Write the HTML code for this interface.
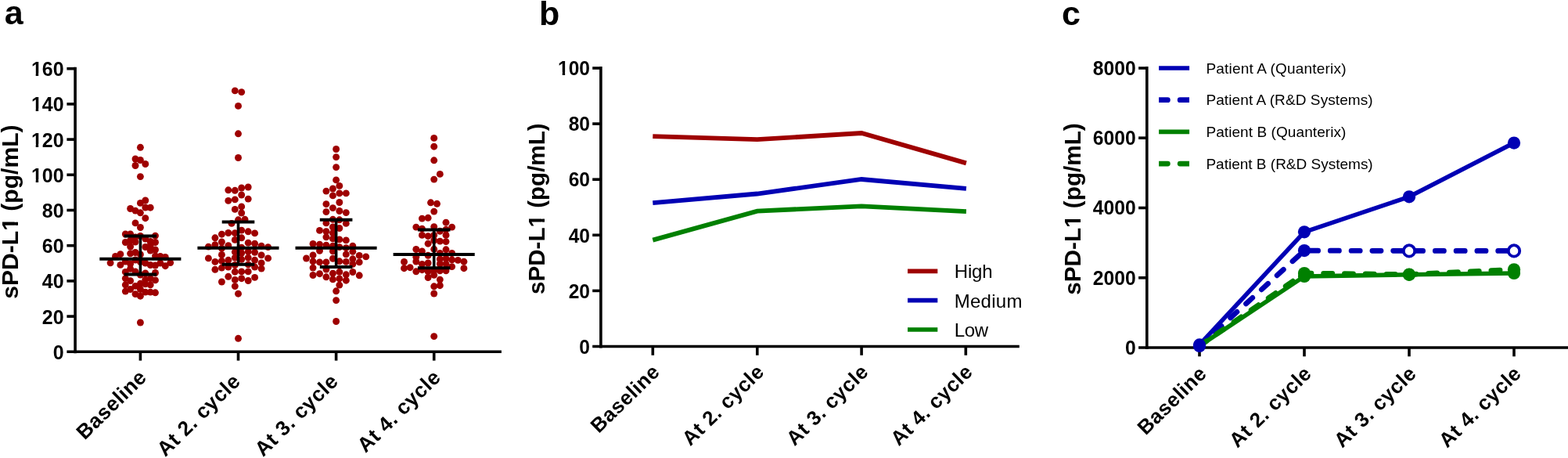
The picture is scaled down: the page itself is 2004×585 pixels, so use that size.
<!DOCTYPE html>
<html lang="en"><head><meta charset="utf-8"><title>sPD-L1 figure</title>
<style>html,body{margin:0;padding:0;background:#fff;width:2004px;height:585px;overflow:hidden}svg{display:block}text{font-family:"Liberation Sans",sans-serif;fill:#000}.tk{font-weight:bold;}.xl{font-weight:bold}.yt{font-weight:bold;}.pl{font-weight:bold;font-size:43px}.lg{font-size:24px}.lc{font-size:19px}.ax{stroke:#000;stroke-width:3.6;fill:none}</style></head><body>
<svg width="2004" height="585" viewBox="0 0 2004 585">
<rect width="2004" height="585" fill="#fff"/>
<g id="panel-a">
<text class="pl" x="5.7" y="31.3">a</text>
<g transform="translate(22.8 270.6) rotate(-90)"><text class="yt" font-size="30.10" text-anchor="middle">sPD-L1 (pg/mL)</text><rect x="-23.35" y="-4.07" width="6.13" height="5.07" fill="#fff"/><rect x="-13.09" y="-4.07" width="5.75" height="5.07" fill="#fff"/></g>
<g fill="#9e0000">
<circle cx="179.4" cy="188.3" r="4.45"/>
<circle cx="173.0" cy="203.0" r="4.45"/>
<circle cx="179.4" cy="204.5" r="4.45"/>
<circle cx="185.8" cy="209.5" r="4.45"/>
<circle cx="173.0" cy="211.5" r="4.45"/>
<circle cx="179.4" cy="225.6" r="4.45"/>
<circle cx="185.8" cy="256.0" r="4.45"/>
<circle cx="179.4" cy="259.4" r="4.45"/>
<circle cx="185.8" cy="265.0" r="4.45"/>
<circle cx="192.2" cy="265.2" r="4.45"/>
<circle cx="166.6" cy="266.5" r="4.45"/>
<circle cx="173.0" cy="269.1" r="4.45"/>
<circle cx="179.4" cy="271.8" r="4.45"/>
<circle cx="185.8" cy="278.7" r="4.45"/>
<circle cx="173.0" cy="284.9" r="4.45"/>
<circle cx="179.4" cy="290.5" r="4.45"/>
<circle cx="160.3" cy="299.0" r="4.45"/>
<circle cx="166.6" cy="299.0" r="4.45"/>
<circle cx="179.4" cy="301.5" r="4.45"/>
<circle cx="198.5" cy="301.1" r="4.45"/>
<circle cx="173.0" cy="303.0" r="4.45"/>
<circle cx="160.3" cy="309.5" r="4.45"/>
<circle cx="166.6" cy="307.0" r="4.45"/>
<circle cx="173.0" cy="309.0" r="4.45"/>
<circle cx="185.8" cy="305.0" r="4.45"/>
<circle cx="192.2" cy="308.5" r="4.45"/>
<circle cx="198.5" cy="309.5" r="4.45"/>
<circle cx="166.6" cy="315.0" r="4.45"/>
<circle cx="185.8" cy="315.5" r="4.45"/>
<circle cx="192.2" cy="313.5" r="4.45"/>
<circle cx="192.2" cy="320.0" r="4.45"/>
<circle cx="198.5" cy="319.0" r="4.45"/>
<circle cx="173.0" cy="322.5" r="4.45"/>
<circle cx="179.4" cy="325.0" r="4.45"/>
<circle cx="153.9" cy="324.7" r="4.45"/>
<circle cx="147.5" cy="327.5" r="4.45"/>
<circle cx="166.6" cy="323.8" r="4.45"/>
<circle cx="198.5" cy="327.0" r="4.45"/>
<circle cx="204.9" cy="327.5" r="4.45"/>
<circle cx="211.3" cy="328.5" r="4.45"/>
<circle cx="141.1" cy="335.8" r="4.45"/>
<circle cx="153.9" cy="338.4" r="4.45"/>
<circle cx="160.3" cy="334.0" r="4.45"/>
<circle cx="166.6" cy="337.0" r="4.45"/>
<circle cx="173.0" cy="332.0" r="4.45"/>
<circle cx="179.4" cy="334.5" r="4.45"/>
<circle cx="185.8" cy="336.0" r="4.45"/>
<circle cx="192.2" cy="338.5" r="4.45"/>
<circle cx="198.5" cy="339.0" r="4.45"/>
<circle cx="204.9" cy="336.0" r="4.45"/>
<circle cx="211.3" cy="339.7" r="4.45"/>
<circle cx="217.7" cy="335.6" r="4.45"/>
<circle cx="160.3" cy="347.4" r="4.45"/>
<circle cx="166.6" cy="343.3" r="4.45"/>
<circle cx="173.0" cy="347.0" r="4.45"/>
<circle cx="185.8" cy="349.0" r="4.45"/>
<circle cx="198.5" cy="348.5" r="4.45"/>
<circle cx="179.4" cy="351.0" r="4.45"/>
<circle cx="160.3" cy="355.6" r="4.45"/>
<circle cx="166.6" cy="358.7" r="4.45"/>
<circle cx="185.8" cy="357.2" r="4.45"/>
<circle cx="192.2" cy="355.6" r="4.45"/>
<circle cx="198.5" cy="357.9" r="4.45"/>
<circle cx="160.3" cy="363.8" r="4.45"/>
<circle cx="173.0" cy="365.4" r="4.45"/>
<circle cx="179.4" cy="362.3" r="4.45"/>
<circle cx="185.8" cy="362.8" r="4.45"/>
<circle cx="192.2" cy="363.8" r="4.45"/>
<circle cx="160.3" cy="372.1" r="4.45"/>
<circle cx="166.6" cy="369.5" r="4.45"/>
<circle cx="179.4" cy="369.5" r="4.45"/>
<circle cx="185.8" cy="373.1" r="4.45"/>
<circle cx="192.2" cy="373.1" r="4.45"/>
<circle cx="198.5" cy="373.8" r="4.45"/>
<circle cx="173.0" cy="375.6" r="4.45"/>
<circle cx="179.4" cy="378.2" r="4.45"/>
<circle cx="179.4" cy="412.0" r="4.45"/>
</g>
<g fill="#9e0000">
<circle cx="300.3" cy="115.9" r="4.45"/>
<circle cx="308.7" cy="117.6" r="4.45"/>
<circle cx="304.5" cy="135.4" r="4.45"/>
<circle cx="304.5" cy="170.8" r="4.45"/>
<circle cx="304.5" cy="201.5" r="4.45"/>
<circle cx="291.8" cy="242.8" r="4.45"/>
<circle cx="300.3" cy="243.3" r="4.45"/>
<circle cx="308.7" cy="240.0" r="4.45"/>
<circle cx="317.2" cy="239.0" r="4.45"/>
<circle cx="308.7" cy="249.0" r="4.45"/>
<circle cx="291.8" cy="256.4" r="4.45"/>
<circle cx="300.3" cy="254.9" r="4.45"/>
<circle cx="317.2" cy="254.1" r="4.45"/>
<circle cx="308.7" cy="263.9" r="4.45"/>
<circle cx="300.3" cy="267.4" r="4.45"/>
<circle cx="308.7" cy="272.0" r="4.45"/>
<circle cx="304.5" cy="280.8" r="4.45"/>
<circle cx="313.0" cy="280.3" r="4.45"/>
<circle cx="296.0" cy="285.4" r="4.45"/>
<circle cx="308.7" cy="294.1" r="4.45"/>
<circle cx="317.2" cy="295.8" r="4.45"/>
<circle cx="325.6" cy="297.9" r="4.45"/>
<circle cx="291.8" cy="297.5" r="4.45"/>
<circle cx="283.4" cy="299.2" r="4.45"/>
<circle cx="300.3" cy="297.7" r="4.45"/>
<circle cx="274.9" cy="303.8" r="4.45"/>
<circle cx="308.7" cy="303.8" r="4.45"/>
<circle cx="300.3" cy="306.4" r="4.45"/>
<circle cx="283.4" cy="309.0" r="4.45"/>
<circle cx="317.2" cy="310.2" r="4.45"/>
<circle cx="325.6" cy="311.2" r="4.45"/>
<circle cx="274.9" cy="312.6" r="4.45"/>
<circle cx="291.8" cy="313.6" r="4.45"/>
<circle cx="334.1" cy="314.1" r="4.45"/>
<circle cx="266.4" cy="315.1" r="4.45"/>
<circle cx="342.6" cy="315.6" r="4.45"/>
<circle cx="308.7" cy="316.2" r="4.45"/>
<circle cx="283.4" cy="317.2" r="4.45"/>
<circle cx="300.3" cy="321.8" r="4.45"/>
<circle cx="317.2" cy="321.3" r="4.45"/>
<circle cx="325.6" cy="322.3" r="4.45"/>
<circle cx="308.7" cy="323.3" r="4.45"/>
<circle cx="283.4" cy="325.4" r="4.45"/>
<circle cx="334.1" cy="325.9" r="4.45"/>
<circle cx="266.4" cy="329.9" r="4.45"/>
<circle cx="342.6" cy="329.9" r="4.45"/>
<circle cx="274.9" cy="334.4" r="4.45"/>
<circle cx="283.4" cy="333.3" r="4.45"/>
<circle cx="291.8" cy="332.3" r="4.45"/>
<circle cx="300.3" cy="329.2" r="4.45"/>
<circle cx="308.7" cy="331.3" r="4.45"/>
<circle cx="317.2" cy="329.2" r="4.45"/>
<circle cx="325.6" cy="332.3" r="4.45"/>
<circle cx="334.1" cy="335.9" r="4.45"/>
<circle cx="274.9" cy="344.3" r="4.45"/>
<circle cx="283.4" cy="342.1" r="4.45"/>
<circle cx="291.8" cy="341.0" r="4.45"/>
<circle cx="300.3" cy="338.5" r="4.45"/>
<circle cx="317.2" cy="337.9" r="4.45"/>
<circle cx="325.6" cy="341.0" r="4.45"/>
<circle cx="334.1" cy="343.1" r="4.45"/>
<circle cx="300.3" cy="347.2" r="4.45"/>
<circle cx="308.7" cy="346.9" r="4.45"/>
<circle cx="317.2" cy="346.9" r="4.45"/>
<circle cx="291.8" cy="353.3" r="4.45"/>
<circle cx="300.3" cy="357.4" r="4.45"/>
<circle cx="308.7" cy="355.7" r="4.45"/>
<circle cx="317.2" cy="358.5" r="4.45"/>
<circle cx="325.6" cy="354.4" r="4.45"/>
<circle cx="283.4" cy="360.0" r="4.45"/>
<circle cx="300.3" cy="365.6" r="4.45"/>
<circle cx="304.5" cy="375.2" r="4.45"/>
<circle cx="304.5" cy="432.3" r="4.45"/>
</g>
<g fill="#9e0000">
<circle cx="429.6" cy="190.5" r="4.45"/>
<circle cx="429.6" cy="200.6" r="4.45"/>
<circle cx="429.6" cy="213.6" r="4.45"/>
<circle cx="429.6" cy="229.9" r="4.45"/>
<circle cx="433.8" cy="237.4" r="4.45"/>
<circle cx="425.4" cy="241.0" r="4.45"/>
<circle cx="416.9" cy="244.1" r="4.45"/>
<circle cx="433.8" cy="246.9" r="4.45"/>
<circle cx="442.3" cy="246.9" r="4.45"/>
<circle cx="425.4" cy="249.9" r="4.45"/>
<circle cx="433.8" cy="258.5" r="4.45"/>
<circle cx="416.9" cy="260.7" r="4.45"/>
<circle cx="425.4" cy="265.6" r="4.45"/>
<circle cx="416.9" cy="270.6" r="4.45"/>
<circle cx="433.8" cy="269.5" r="4.45"/>
<circle cx="442.3" cy="271.6" r="4.45"/>
<circle cx="425.4" cy="280.3" r="4.45"/>
<circle cx="433.8" cy="280.8" r="4.45"/>
<circle cx="416.9" cy="284.9" r="4.45"/>
<circle cx="442.3" cy="285.4" r="4.45"/>
<circle cx="425.4" cy="290.0" r="4.45"/>
<circle cx="433.8" cy="291.5" r="4.45"/>
<circle cx="408.5" cy="294.4" r="4.45"/>
<circle cx="416.9" cy="295.6" r="4.45"/>
<circle cx="425.4" cy="297.7" r="4.45"/>
<circle cx="416.9" cy="302.8" r="4.45"/>
<circle cx="425.4" cy="304.9" r="4.45"/>
<circle cx="433.8" cy="305.9" r="4.45"/>
<circle cx="442.3" cy="306.9" r="4.45"/>
<circle cx="400.0" cy="311.5" r="4.45"/>
<circle cx="408.5" cy="312.1" r="4.45"/>
<circle cx="416.9" cy="313.1" r="4.45"/>
<circle cx="425.4" cy="314.1" r="4.45"/>
<circle cx="450.8" cy="314.1" r="4.45"/>
<circle cx="433.8" cy="315.6" r="4.45"/>
<circle cx="442.3" cy="316.7" r="4.45"/>
<circle cx="408.5" cy="320.3" r="4.45"/>
<circle cx="425.4" cy="320.8" r="4.45"/>
<circle cx="450.8" cy="321.3" r="4.45"/>
<circle cx="442.3" cy="324.9" r="4.45"/>
<circle cx="400.0" cy="325.9" r="4.45"/>
<circle cx="459.2" cy="326.4" r="4.45"/>
<circle cx="467.7" cy="327.9" r="4.45"/>
<circle cx="391.5" cy="330.0" r="4.45"/>
<circle cx="425.4" cy="330.3" r="4.45"/>
<circle cx="450.8" cy="330.8" r="4.45"/>
<circle cx="433.8" cy="333.8" r="4.45"/>
<circle cx="400.0" cy="333.8" r="4.45"/>
<circle cx="408.5" cy="334.9" r="4.45"/>
<circle cx="416.9" cy="334.9" r="4.45"/>
<circle cx="442.3" cy="334.4" r="4.45"/>
<circle cx="459.2" cy="334.9" r="4.45"/>
<circle cx="450.8" cy="337.4" r="4.45"/>
<circle cx="400.0" cy="342.1" r="4.45"/>
<circle cx="416.9" cy="344.1" r="4.45"/>
<circle cx="433.8" cy="347.3" r="4.45"/>
<circle cx="450.8" cy="347.5" r="4.45"/>
<circle cx="425.4" cy="349.2" r="4.45"/>
<circle cx="408.5" cy="349.7" r="4.45"/>
<circle cx="442.3" cy="350.8" r="4.45"/>
<circle cx="400.0" cy="351.5" r="4.45"/>
<circle cx="459.2" cy="351.8" r="4.45"/>
<circle cx="416.9" cy="353.8" r="4.45"/>
<circle cx="425.4" cy="356.9" r="4.45"/>
<circle cx="433.8" cy="355.9" r="4.45"/>
<circle cx="442.3" cy="358.2" r="4.45"/>
<circle cx="433.8" cy="364.1" r="4.45"/>
<circle cx="429.6" cy="371.8" r="4.45"/>
<circle cx="429.6" cy="383.6" r="4.45"/>
<circle cx="429.6" cy="410.5" r="4.45"/>
</g>
<g fill="#9e0000">
<circle cx="554.7" cy="176.4" r="4.45"/>
<circle cx="554.7" cy="187.2" r="4.45"/>
<circle cx="554.7" cy="204.8" r="4.45"/>
<circle cx="562.3" cy="222.4" r="4.45"/>
<circle cx="554.7" cy="229.1" r="4.45"/>
<circle cx="550.5" cy="258.8" r="4.45"/>
<circle cx="558.5" cy="260.3" r="4.45"/>
<circle cx="554.7" cy="270.1" r="4.45"/>
<circle cx="539.4" cy="279.1" r="4.45"/>
<circle cx="547.1" cy="278.3" r="4.45"/>
<circle cx="570.0" cy="284.2" r="4.45"/>
<circle cx="531.8" cy="290.1" r="4.45"/>
<circle cx="577.6" cy="290.1" r="4.45"/>
<circle cx="554.7" cy="289.6" r="4.45"/>
<circle cx="539.4" cy="292.2" r="4.45"/>
<circle cx="562.3" cy="295.3" r="4.45"/>
<circle cx="570.0" cy="293.2" r="4.45"/>
<circle cx="539.4" cy="300.4" r="4.45"/>
<circle cx="547.1" cy="301.7" r="4.45"/>
<circle cx="554.7" cy="300.4" r="4.45"/>
<circle cx="570.0" cy="300.4" r="4.45"/>
<circle cx="562.3" cy="308.1" r="4.45"/>
<circle cx="570.0" cy="308.6" r="4.45"/>
<circle cx="554.7" cy="307.0" r="4.45"/>
<circle cx="547.1" cy="311.2" r="4.45"/>
<circle cx="531.8" cy="318.5" r="4.45"/>
<circle cx="539.4" cy="320.9" r="4.45"/>
<circle cx="554.7" cy="318.3" r="4.45"/>
<circle cx="570.0" cy="318.8" r="4.45"/>
<circle cx="562.3" cy="323.5" r="4.45"/>
<circle cx="577.6" cy="323.5" r="4.45"/>
<circle cx="547.1" cy="326.3" r="4.45"/>
<circle cx="531.8" cy="328.3" r="4.45"/>
<circle cx="562.3" cy="330.9" r="4.45"/>
<circle cx="570.0" cy="330.4" r="4.45"/>
<circle cx="577.6" cy="331.9" r="4.45"/>
<circle cx="585.3" cy="332.4" r="4.45"/>
<circle cx="592.9" cy="334.2" r="4.45"/>
<circle cx="516.5" cy="334.5" r="4.45"/>
<circle cx="531.8" cy="334.0" r="4.45"/>
<circle cx="547.1" cy="336.0" r="4.45"/>
<circle cx="539.4" cy="337.4" r="4.45"/>
<circle cx="524.1" cy="341.7" r="4.45"/>
<circle cx="516.5" cy="342.7" r="4.45"/>
<circle cx="577.6" cy="340.6" r="4.45"/>
<circle cx="592.9" cy="342.7" r="4.45"/>
<circle cx="570.0" cy="337.1" r="4.45"/>
<circle cx="562.3" cy="337.0" r="4.45"/>
<circle cx="531.8" cy="346.8" r="4.45"/>
<circle cx="539.4" cy="344.7" r="4.45"/>
<circle cx="547.1" cy="346.8" r="4.45"/>
<circle cx="554.7" cy="345.8" r="4.45"/>
<circle cx="562.3" cy="345.8" r="4.45"/>
<circle cx="570.0" cy="345.8" r="4.45"/>
<circle cx="554.7" cy="351.4" r="4.45"/>
<circle cx="547.1" cy="354.5" r="4.45"/>
<circle cx="562.3" cy="357.1" r="4.45"/>
<circle cx="554.7" cy="365.8" r="4.45"/>
<circle cx="562.3" cy="364.7" r="4.45"/>
<circle cx="554.7" cy="375.0" r="4.45"/>
<circle cx="554.7" cy="429.6" r="4.45"/>
</g>
<path d="M127.3 330.8H231.4M158.6 301.5H200.2M158.6 350.5H200.2" stroke="#000" stroke-width="4" fill="none"/>
<path d="M179.4 301.5V350.5" stroke="#000" stroke-width="3.6" fill="none"/>
<path d="M252.4 316.7H356.5M283.7 283.5H325.3M283.7 337.7H325.3" stroke="#000" stroke-width="4" fill="none"/>
<path d="M304.5 283.5V337.7" stroke="#000" stroke-width="3.6" fill="none"/>
<path d="M377.5 316.7H481.6M408.8 280.8H450.4M408.8 341.0H450.4" stroke="#000" stroke-width="4" fill="none"/>
<path d="M429.6 280.8V341.0" stroke="#000" stroke-width="3.6" fill="none"/>
<path d="M502.6 325.1H606.7M533.9 293.5H575.5M533.9 342.2H575.5" stroke="#000" stroke-width="4" fill="none"/>
<path d="M554.7 293.5V342.2" stroke="#000" stroke-width="3.6" fill="none"/>
<path class="ax" d="M96.1 85.8V451.2"/>
<path class="ax" d="M85.4 449.3H640.9"/>
<g transform="translate(81.6 458.80) scale(1 1.04)"><text class="tk" font-size="25.00" text-anchor="end">0</text></g>
<path class="ax" d="M85.4 404.1H96.1"/>
<g transform="translate(81.6 413.60) scale(1 1.04)"><text class="tk" font-size="25.00" text-anchor="end">20</text></g>
<path class="ax" d="M85.4 358.9H96.1"/>
<g transform="translate(81.6 368.40) scale(1 1.04)"><text class="tk" font-size="25.00" text-anchor="end">40</text></g>
<path class="ax" d="M85.4 313.7H96.1"/>
<g transform="translate(81.6 323.20) scale(1 1.04)"><text class="tk" font-size="25.00" text-anchor="end">60</text></g>
<path class="ax" d="M85.4 268.5H96.1"/>
<g transform="translate(81.6 278.00) scale(1 1.04)"><text class="tk" font-size="25.00" text-anchor="end">80</text></g>
<path class="ax" d="M85.4 223.3H96.1"/>
<g transform="translate(81.6 232.80) scale(1 1.04)"><text class="tk" font-size="25.00" text-anchor="end">100</text><rect x="-41.14" y="-3.55" width="5.26" height="4.55" fill="#fff"/><rect x="-32.45" y="-3.55" width="4.94" height="4.55" fill="#fff"/></g>
<path class="ax" d="M85.4 178.1H96.1"/>
<g transform="translate(81.6 187.60) scale(1 1.04)"><text class="tk" font-size="25.00" text-anchor="end">120</text><rect x="-41.14" y="-3.55" width="5.26" height="4.55" fill="#fff"/><rect x="-32.45" y="-3.55" width="4.94" height="4.55" fill="#fff"/></g>
<path class="ax" d="M85.4 132.9H96.1"/>
<g transform="translate(81.6 142.40) scale(1 1.04)"><text class="tk" font-size="25.00" text-anchor="end">140</text><rect x="-41.14" y="-3.55" width="5.26" height="4.55" fill="#fff"/><rect x="-32.45" y="-3.55" width="4.94" height="4.55" fill="#fff"/></g>
<path class="ax" d="M85.4 87.7H96.1"/>
<g transform="translate(81.6 97.20) scale(1 1.04)"><text class="tk" font-size="25.00" text-anchor="end">160</text><rect x="-41.14" y="-3.55" width="5.26" height="4.55" fill="#fff"/><rect x="-32.45" y="-3.55" width="4.94" height="4.55" fill="#fff"/></g>
<path class="ax" d="M179.4 449.3V460.6"/>
<path class="ax" d="M304.5 449.3V460.6"/>
<path class="ax" d="M429.6 449.3V460.6"/>
<path class="ax" d="M554.7 449.3V460.6"/>
<text class="xl" font-size="26.40" letter-spacing="0.55" text-anchor="end" transform="translate(189.0 483.6) rotate(-44.4)">Baseline</text>
<text class="xl" font-size="26.40" letter-spacing="0.55" text-anchor="end" transform="translate(308.8 488.7) rotate(-44.4)">At 2. cycle</text>
<text class="xl" font-size="26.40" letter-spacing="0.55" text-anchor="end" transform="translate(433.8 488.7) rotate(-44.4)">At 3. cycle</text>
<text class="xl" font-size="26.40" letter-spacing="0.55" text-anchor="end" transform="translate(564.8 483.6) rotate(-44.4)">At 4. cycle</text>
</g>
<g id="panel-b">
<text class="pl" x="689.1" y="31.5">b</text>
<g transform="translate(696.0 266.7) rotate(-90)"><text class="yt" font-size="29.59" text-anchor="middle">sPD-L1 (pg/mL)</text><rect x="-22.97" y="-4.02" width="6.04" height="5.02" fill="#fff"/><rect x="-12.86" y="-4.02" width="5.67" height="5.02" fill="#fff"/></g>
<path d="M834.3 174.1L967.8 178.2L1101.1 170.0L1234.9 208.4" stroke="#9e0000" stroke-width="5.8" fill="none" stroke-linejoin="miter"/>
<path d="M834.3 259.2L967.8 247.5L1101.1 229.0L1234.9 240.8" stroke="#0000b4" stroke-width="5.8" fill="none" stroke-linejoin="miter"/>
<path d="M834.3 306.6L967.8 269.6L1101.1 263.4L1234.9 270.1" stroke="#008000" stroke-width="5.8" fill="none" stroke-linejoin="miter"/>
<path class="ax" d="M767.9 85.1V444.4"/>
<path class="ax" d="M757.2 442.5H1302.8"/>
<g transform="translate(754.0 452.35) scale(1 1.04)"><text class="tk" font-size="24.57" text-anchor="end">0</text></g>
<path class="ax" d="M757.2 371.4H767.9"/>
<g transform="translate(754.0 381.02) scale(1 1.04)"><text class="tk" font-size="24.57" text-anchor="end">20</text></g>
<path class="ax" d="M757.2 300.3H767.9"/>
<g transform="translate(754.0 309.69) scale(1 1.04)"><text class="tk" font-size="24.57" text-anchor="end">40</text></g>
<path class="ax" d="M757.2 229.2H767.9"/>
<g transform="translate(754.0 238.36) scale(1 1.04)"><text class="tk" font-size="24.57" text-anchor="end">60</text></g>
<path class="ax" d="M757.2 158.1H767.9"/>
<g transform="translate(754.0 167.03) scale(1 1.04)"><text class="tk" font-size="24.57" text-anchor="end">80</text></g>
<path class="ax" d="M757.2 87.0H767.9"/>
<g transform="translate(754.0 95.70) scale(1 1.04)"><text class="tk" font-size="24.57" text-anchor="end">100</text><rect x="-40.45" y="-3.51" width="5.19" height="4.51" fill="#fff"/><rect x="-31.89" y="-3.51" width="4.88" height="4.51" fill="#fff"/></g>
<path class="ax" d="M834.3 442.5V453.8"/>
<path class="ax" d="M967.8 442.5V453.8"/>
<path class="ax" d="M1101.1 442.5V453.8"/>
<path class="ax" d="M1234.3 442.5V453.8"/>
<text class="xl" font-size="25.95" letter-spacing="0.54" text-anchor="end" transform="translate(844.6 476.6) rotate(-44.4)">Baseline</text>
<text class="xl" font-size="25.95" letter-spacing="0.54" text-anchor="end" transform="translate(978.1 476.6) rotate(-44.4)">At 2. cycle</text>
<text class="xl" font-size="25.95" letter-spacing="0.54" text-anchor="end" transform="translate(1111.4 476.6) rotate(-44.4)">At 3. cycle</text>
<text class="xl" font-size="25.95" letter-spacing="0.54" text-anchor="end" transform="translate(1244.6 476.6) rotate(-44.4)">At 4. cycle</text>
<path d="M1160 346.4H1198.3" stroke="#9e0000" stroke-width="5.7"/>
<text class="lg" x="1219.7" y="355.2" textLength="48.9" lengthAdjust="spacing">High</text>
<path d="M1160 383.7H1198.3" stroke="#0000b4" stroke-width="5.7"/>
<text class="lg" x="1219.7" y="392.5" textLength="86.7" lengthAdjust="spacing">Medium</text>
<path d="M1160 421.0H1198.3" stroke="#008000" stroke-width="5.7"/>
<text class="lg" x="1219.7" y="429.8" textLength="43.4" lengthAdjust="spacing">Low</text>
</g>
<g id="panel-c">
<text class="pl" x="1357" y="31.5">c</text>
<g transform="translate(1381.2 267.0) rotate(-90)"><text class="yt" font-size="29.71" text-anchor="middle">sPD-L1 (pg/mL)</text><rect x="-23.06" y="-4.03" width="6.06" height="5.03" fill="#fff"/><rect x="-12.92" y="-4.03" width="5.69" height="5.03" fill="#fff"/></g>
<path class="ax" d="M1465.8 85.1V445.9"/>
<path class="ax" d="M1455.1 444.0H2004.0"/>
<g transform="translate(1451.6 452.80) scale(1 1.04)"><text class="tk" font-size="24.68" text-anchor="end">0</text></g>
<path class="ax" d="M1455.1 354.8H1465.8"/>
<g transform="translate(1451.6 363.60) scale(1 1.04)"><text class="tk" font-size="24.68" text-anchor="end">2000</text></g>
<path class="ax" d="M1455.1 265.5H1465.8"/>
<g transform="translate(1451.6 274.40) scale(1 1.04)"><text class="tk" font-size="24.68" text-anchor="end">4000</text></g>
<path class="ax" d="M1455.1 176.2H1465.8"/>
<g transform="translate(1451.6 185.20) scale(1 1.04)"><text class="tk" font-size="24.68" text-anchor="end">6000</text></g>
<path class="ax" d="M1455.1 87.0H1465.8"/>
<g transform="translate(1451.6 96.00) scale(1 1.04)"><text class="tk" font-size="24.68" text-anchor="end">8000</text></g>
<path class="ax" d="M1533.0 444.0V455.3"/>
<path class="ax" d="M1667.0 444.0V455.3"/>
<path class="ax" d="M1801.0 444.0V455.3"/>
<path class="ax" d="M1935.0 444.0V455.3"/>
<path d="M1533.0 440.4L1667.0 296.3L1801.0 251.3L1935.0 182.6" stroke="#0000b4" stroke-width="5.6" fill="none" stroke-linejoin="round"/>
<path d="M1533.0 442.0L1667.0 320.1L1801.0 320.4L1935.0 320.4" stroke="#0000b4" stroke-width="6.7" fill="none" stroke-linecap="round" stroke-linejoin="round" stroke-dasharray="11.2 15.6"/>
<path d="M1533.0 441.8L1667.0 353.0L1801.0 350.8L1935.0 349.0" stroke="#008000" stroke-width="5.6" fill="none" stroke-linejoin="round"/>
<path d="M1533.0 441.8L1667.0 349.0L1801.0 350.6L1935.0 344.3" stroke="#008000" stroke-width="6.7" fill="none" stroke-linecap="round" stroke-linejoin="round" stroke-dasharray="11.2 15.6"/>
<circle cx="1667.0" cy="353.0" r="8.1" fill="#008000"/>
<circle cx="1667.0" cy="349.0" r="8.1" fill="#008000"/>
<circle cx="1801.0" cy="350.8" r="8.1" fill="#008000"/>
<circle cx="1801.0" cy="350.6" r="8.1" fill="#008000"/>
<circle cx="1935.0" cy="349.0" r="8.1" fill="#008000"/>
<circle cx="1935.0" cy="344.3" r="8.1" fill="#008000"/>
<circle cx="1533.0" cy="440.4" r="8.1" fill="#0000b4"/>
<circle cx="1667.0" cy="296.3" r="8.1" fill="#0000b4"/>
<circle cx="1801.0" cy="251.3" r="8.1" fill="#0000b4"/>
<circle cx="1935.0" cy="182.6" r="8.1" fill="#0000b4"/>
<circle cx="1533.0" cy="442.0" r="8.1" fill="#0000b4"/>
<circle cx="1667.0" cy="320.1" r="8.1" fill="#0000b4"/>
<circle cx="1801.0" cy="320.4" r="7.2" fill="#fff" stroke="#0000b4" stroke-width="3.8"/>
<circle cx="1935.0" cy="320.4" r="7.2" fill="#fff" stroke="#0000b4" stroke-width="3.8"/>
<text class="xl" font-size="26.06" letter-spacing="0.54" text-anchor="end" transform="translate(1543.8 478.7) rotate(-44.4)">Baseline</text>
<text class="xl" font-size="26.06" letter-spacing="0.54" text-anchor="end" transform="translate(1677.8 478.7) rotate(-44.4)">At 2. cycle</text>
<text class="xl" font-size="26.06" letter-spacing="0.54" text-anchor="end" transform="translate(1811.8 478.7) rotate(-44.4)">At 3. cycle</text>
<text class="xl" font-size="26.06" letter-spacing="0.54" text-anchor="end" transform="translate(1945.8 478.7) rotate(-44.4)">At 4. cycle</text>
<path d="M1481.1 87.0H1520.1" stroke="#0000b4" stroke-width="5.6"/>
<text class="lc" x="1541.4" y="93.7" textLength="179.1" lengthAdjust="spacing">Patient A (Quanterix)</text>
<path d="M1481.1 124.35h11.3a3.35 3.35 0 0 1 0 6.7h-11.3zM1520.0 124.35h-11.9a3.35 3.35 0 0 0 0 6.7h11.9z" fill="#0000b4"/>
<text class="lc" x="1541.4" y="134.4" textLength="213.3" lengthAdjust="spacing">Patient A (R&amp;D Systems)</text>
<path d="M1481.1 168.4H1520.1" stroke="#008000" stroke-width="5.6"/>
<text class="lc" x="1541.4" y="175.1" textLength="179.0" lengthAdjust="spacing">Patient B (Quanterix)</text>
<path d="M1481.1 205.75h11.3a3.35 3.35 0 0 1 0 6.7h-11.3zM1520.0 205.75h-11.9a3.35 3.35 0 0 0 0 6.7h11.9z" fill="#008000"/>
<text class="lc" x="1541.4" y="215.8" textLength="213.3" lengthAdjust="spacing">Patient B (R&amp;D Systems)</text>
</g>
</svg></body></html>
